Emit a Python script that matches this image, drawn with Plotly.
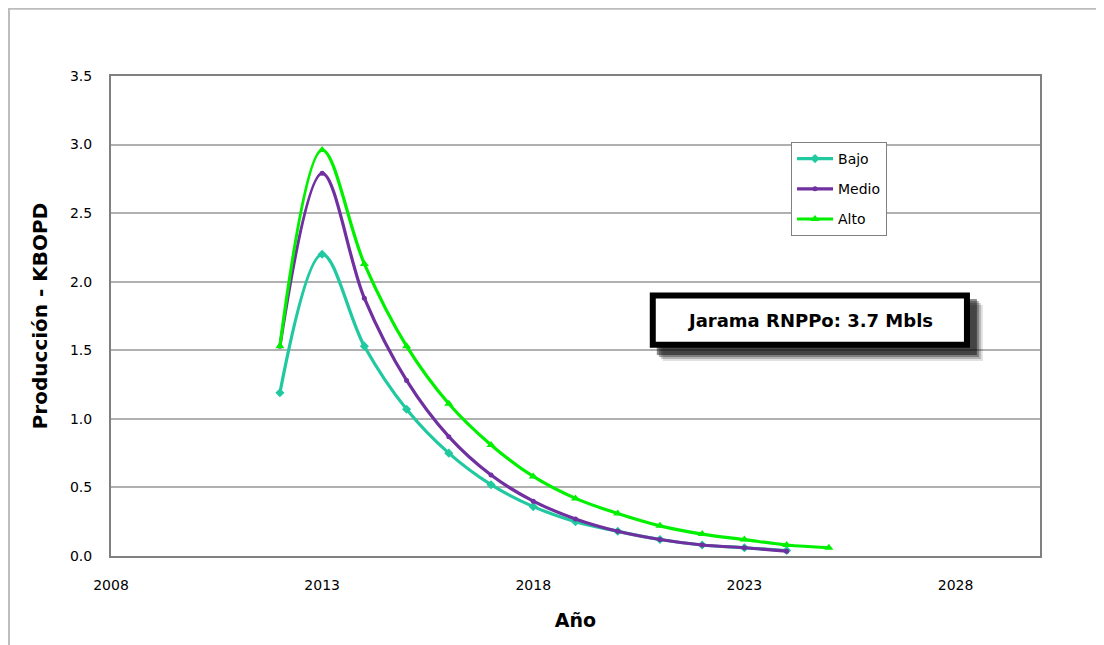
import plotly.graph_objects as go

# production forecast, KBOPD
years_bajo = [2012, 2013, 2014, 2015, 2016, 2017, 2018, 2019, 2020, 2021, 2022, 2023, 2024]
bajo = [1.19, 2.20, 1.53, 1.07, 0.75, 0.52, 0.36, 0.25, 0.18, 0.12, 0.08, 0.06, 0.04]

years_medio = [2012, 2013, 2014, 2015, 2016, 2017, 2018, 2019, 2020, 2021, 2022, 2023, 2024]
medio = [1.53, 2.79, 1.88, 1.28, 0.87, 0.59, 0.40, 0.27, 0.18, 0.12, 0.08, 0.06, 0.035]

years_alto = [2012, 2013, 2014, 2015, 2016, 2017, 2018, 2019, 2020, 2021, 2022, 2023, 2024, 2025]
alto = [1.53, 2.96, 2.13, 1.53, 1.11, 0.81, 0.58, 0.42, 0.31, 0.22, 0.16, 0.12, 0.08, 0.06]

box_text = "Jarama RNPPo: 3.7 Mbls"

FONT = "DejaVu Sans"

fig = go.Figure()
fig.add_trace(go.Scatter(x=years_bajo, y=bajo, name="Bajo", legendgroup="b", mode="lines+markers",
                         line=dict(color="#20C9A0", width=3.2, shape="spline", smoothing=1),
                         marker=dict(symbol="diamond", size=7, color="#20C9A0")))
fig.add_trace(go.Scatter(x=years_medio, y=medio, name="Medio", legendgroup="m", mode="lines+markers",
                         line=dict(color="#7030A0", width=3.2, shape="spline", smoothing=1),
                         marker=dict(symbol="circle", size=5, color="#7030A0")))
fig.add_trace(go.Scatter(x=years_alto, y=alto, name="Alto", legendgroup="a", mode="lines+markers",
                         line=dict(color="#00F000", width=3.2, shape="spline", smoothing=1),
                         marker=dict(symbol="triangle-up", size=8, color="#00F000")))

# outer chart frame
fig.add_shape(type="rect", xref="paper", yref="paper", x0=-0.1098, x1=1.2, y0=-0.3, y1=1.14,
              line=dict(color="#BDBDBD", width=2), layer="below")

# text box with soft shadow
for off, op in [(13, 0.12), (11, 0.2), (9, 0.3), (7, 0.45)]:
    fig.add_shape(type="rect", xref="x", yref="y",
                  x0=2020.76 + off / 42.3, x1=2028.34 + off / 42.3,
                  y0=1.517 - off * 3.5 / 480, y1=1.925 - off * 3.5 / 480,
                  fillcolor="rgba(0,0,0,%s)" % op, line=dict(width=0))
fig.add_shape(type="rect", xref="x", yref="y", x0=2020.83, x1=2028.27, y0=1.54, y1=1.90,
              fillcolor="white", line=dict(color="black", width=6))
fig.add_annotation(x=2024.55, y=1.72, xref="x", yref="y", text="<b>%s</b>" % box_text,
                   showarrow=False, font=dict(family=FONT, size=18, color="black"))

fig.update_layout(
    width=1104, height=645,
    margin=dict(l=103, r=72, t=68, b=97),
    paper_bgcolor="white", plot_bgcolor="white",
    font=dict(family=FONT, size=14, color="black"),
    showlegend=True,
    legend=dict(x=0.732, y=0.8625, xanchor="left", yanchor="top",
                bordercolor="#808080", borderwidth=1, bgcolor="white",
                font=dict(family=FONT, size=14), tracegroupgap=9, itemwidth=36),
    xaxis=dict(range=[2008, 2030], tick0=2008, dtick=5, showgrid=False,
               showline=True, linecolor="#808080", linewidth=2, mirror=True,
               ticks="", ticklabelstandoff=15, zeroline=False,
               title=dict(text="<b>Año</b>", font=dict(size=19), standoff=22)),
    yaxis=dict(range=[0, 3.5], dtick=0.5, tickformat=".1f", showgrid=True,
               gridcolor="#B0B0B0", gridwidth=1.5,
               showline=True, linecolor="#808080", linewidth=2, mirror=True,
               ticks="", ticklabelstandoff=14, zeroline=False,
               title=dict(text="<b>Producción - KBOPD</b>", font=dict(size=20), standoff=17)),
)

fig.write_html("out.html")
